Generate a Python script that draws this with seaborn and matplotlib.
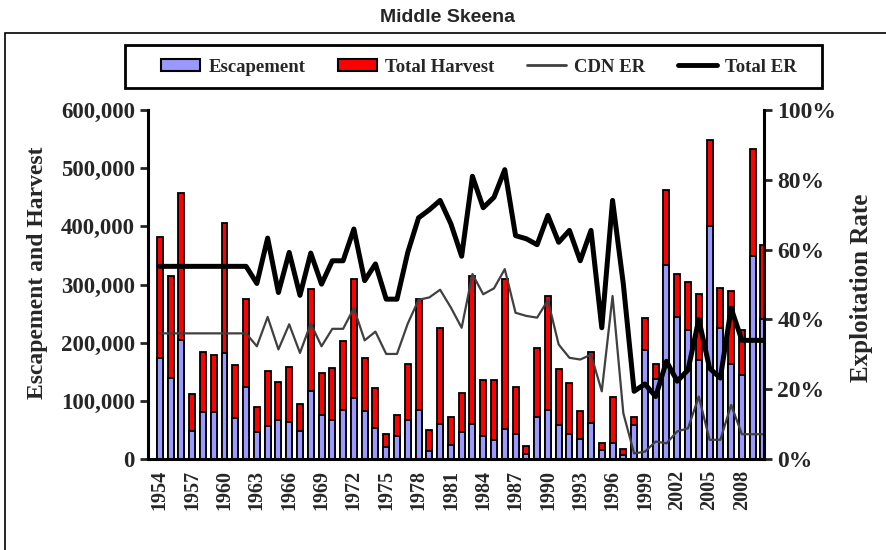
import numpy as np
import pandas as pd
import matplotlib
matplotlib.use("Agg")
import matplotlib.pyplot as plt
import seaborn as sns
from matplotlib.patches import Patch, Rectangle
from matplotlib.lines import Line2D
from matplotlib.ticker import FuncFormatter, FixedLocator

# Middle Skeena: escapement, total run (escapement + harvest), exploitation rates
years = list(range(1954, 2011))

total_run = [382, 315, 458, 111, 184, 178, 406, 162, 275, 90,
             152, 132, 159, 95, 293, 148, 157, 203, 309, 173,
             122, 43, 76, 164, 275, 49, 226, 73, 113, 314,
             135, 135, 309, 124, 22, 191, 280, 155, 130, 82,
             184, 27, 106, 18, 73, 242, 164, 463, 318, 305,
             283, 549, 294, 288, 221, 533, 368]
escapement = [173, 140, 205, 48, 81, 81, 182, 71, 124, 46,
              56, 67, 64, 48, 117, 76, 67, 85, 105, 83,
              54, 21, 40, 67, 85, 13, 60, 24, 47, 60,
              39, 33, 52, 43, 8, 73, 85, 59, 43, 35,
              62, 16, 27, 7, 59, 188, 138, 333, 244, 222,
              171, 400, 226, 164, 145, 349, 240]

cdn_er = [36.0, 36.0, 36.0, 36.0, 36.0, 36.0, 36.0, 36.0, 36.0, 32.3,
          40.7, 31.4, 38.6, 30.4, 38.8, 32.3, 37.3, 37.3, 43.2, 34.0,
          36.5, 30.1, 30.1, 38.8, 45.6, 46.3, 48.5, 43.4, 37.6, 53.0,
          47.2, 48.9, 54.4, 41.9, 41.0, 40.5, 45.5, 32.8, 29.0, 28.5,
          29.9, 19.4, 46.7, 13.1, 1.6, 2.1, 5.0, 4.5, 7.9, 8.8,
          17.9, 5.5, 5.5, 15.5, 7.1, 7.1, 7.1]
total_er = [55.2, 55.2, 55.2, 55.2, 55.2, 55.2, 55.2, 55.2, 55.2, 50.3,
            63.3, 47.7, 59.2, 46.9, 59.0, 50.1, 56.8, 56.8, 65.9, 51.1,
            55.9, 45.8, 45.8, 59.2, 69.1, 71.4, 74.1, 67.4, 58.1, 81.0,
            72.0, 75.0, 82.9, 64.0, 63.1, 61.4, 69.8, 62.1, 65.5, 56.8,
            65.5, 37.6, 74.1, 50.1, 19.4, 21.5, 17.9, 28.0, 22.3, 25.5,
            40.0, 26.0, 23.2, 43.2, 34.0, 34.0, 34.0]

df = pd.DataFrame({
    "year": [str(y) for y in years],
    "total": np.array(total_run) * 1000,
    "escapement": np.array(escapement) * 1000,
    "cdn_er": cdn_er,
    "total_er": total_er,
})
df["pos"] = np.arange(len(df))

sns.set_style("white")
serif = ["Liberation Serif", "DejaVu Serif"]
plt.rcParams["font.family"] = serif
plt.rcParams["font.weight"] = "bold"

W, H = 886, 550
fig = plt.figure(figsize=(W / 100, H / 100), dpi=100)
ax = fig.add_axes([148 / W, (H - 459) / H, (764 - 148) / W, (459 - 110) / H])

esc_col = "#9999FF"
harv_col = "#FF0000"

# total (red) first, escapement (blue) drawn over it -> stacked look
sns.barplot(data=df, x="year", y="total", color=harv_col, edgecolor="black",
            linewidth=1.3, width=0.55, saturation=1, ax=ax)
sns.barplot(data=df, x="year", y="escapement", color=esc_col, edgecolor="black",
            linewidth=1.3, width=0.55, saturation=1, ax=ax)

ax.set_ylim(0, 600000)
ax.set_xlim(-1.1, 56.05)
ax.yaxis.set_major_locator(FixedLocator(np.arange(0, 600001, 100000)))
ax.yaxis.set_major_formatter(FuncFormatter(lambda v, p: f"{int(v):,}"))
ax.set_xticks(np.arange(0, len(df), 3))
ax.set_xticklabels(df["year"][::3], rotation=90, fontsize=14.5, fontweight="bold")
ax.xaxis.set_minor_locator(FixedLocator(np.arange(-0.5, len(df), 1)))
ax.tick_params(axis="x", which="major", length=0, pad=8)
ax.tick_params(axis="x", which="minor", length=6, width=2, direction="out")
ax.tick_params(axis="y", length=6, width=2, direction="out", labelsize=16.5)
for lab in ax.get_yticklabels():
    lab.set_fontweight("bold")
ax.set_xlabel("")
ax.set_ylabel("Escapement and Harvest", fontsize=17, fontweight="bold")
ax.yaxis.set_label_coords(-0.162, 0.535)
for s in ["top", "right"]:
    ax.spines[s].set_visible(False)
for s in ["left", "bottom"]:
    ax.spines[s].set_linewidth(2.2)
    ax.spines[s].set_color("black")

ax2 = ax.twinx()
sns.lineplot(data=df, x="pos", y="cdn_er", color="#404040", linewidth=1.6, ax=ax2)
sns.lineplot(data=df, x="pos", y="total_er", color="black", linewidth=3.6, ax=ax2)
ax2.set_ylim(0, 100)
ax2.set_xlim(-1.1, 56.05)
ax2.yaxis.set_major_locator(FixedLocator(np.arange(0, 101, 20)))
ax2.yaxis.set_major_formatter(FuncFormatter(lambda v, p: f"{int(v)}%"))
ax2.tick_params(axis="y", length=6, width=2, direction="out", labelsize=17)
for lab in ax2.get_yticklabels():
    lab.set_fontweight("bold")
ax2.set_ylabel("Exploitation Rate", fontsize=18, fontweight="bold")
ax2.yaxis.set_label_coords(1.139, 0.49)
for s in ["top", "left", "bottom"]:
    ax2.spines[s].set_visible(False)
ax2.spines["right"].set_linewidth(2.2)
ax2.spines["right"].set_color("black")

# chart area frame
fig.patches.append(Rectangle((5 / W, -0.1), 1.2, (H - 33) / H + 0.1,
                             transform=fig.transFigure, fill=False,
                             edgecolor="black", linewidth=1.2))

fig.text(448 / W, 1 - 17 / H, "Middle Skeena", ha="center", va="center",
         fontsize=14, fontweight="bold", family=["Liberation Sans", "DejaVu Sans"])

# legend box
fig.patches.append(Rectangle((125 / W, 1 - 88 / H), (822 - 125) / W, 43 / H,
                             transform=fig.transFigure, fill=False,
                             edgecolor="black", linewidth=2))
handles = [
    Patch(facecolor=esc_col, edgecolor="black", linewidth=1.5, label="Escapement"),
    Patch(facecolor=harv_col, edgecolor="black", linewidth=1.5, label="Total Harvest"),
    Line2D([], [], color="#404040", linewidth=2, label="CDN ER"),
    Line2D([], [], color="black", linewidth=3.5, label="Total ER"),
]
leg = fig.legend(handles=handles, ncol=4, loc="center",
                 bbox_to_anchor=(479 / W, 1 - 67 / H), frameon=False,
                 handlelength=2.1, handleheight=0.6, handletextpad=0.45,
                 columnspacing=1.7, borderaxespad=0,
                 prop={"size": 13.5, "weight": "bold"})

fig.savefig("out.png", dpi=100)
